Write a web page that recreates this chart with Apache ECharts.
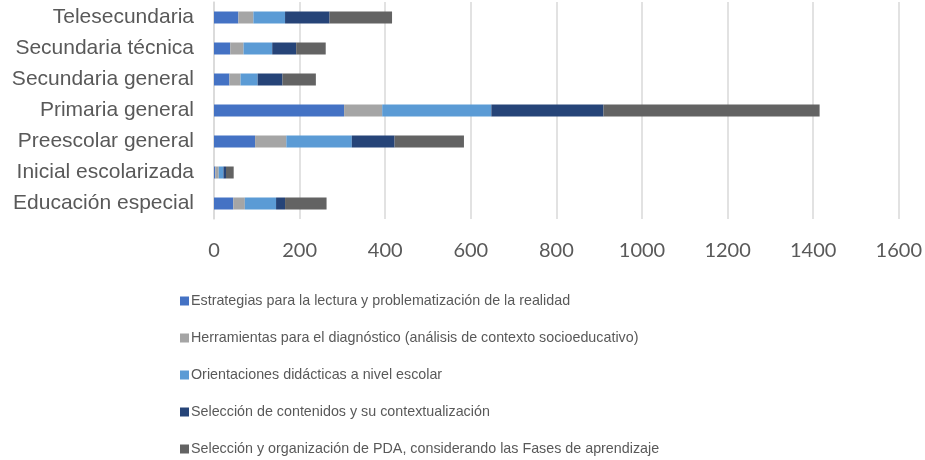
<!DOCTYPE html>
<html>
<head>
<meta charset="utf-8">
<script src="https://cdn.jsdelivr.net/npm/echarts@6/dist/echarts.min.js"></script>
<style>
html,body{margin:0;padding:0;background:#fff;}
#main{width:925px;height:460px;}
</style>
</head>
<body>
<div id="main"></div>
<script>
var fontFamily='Arial,"Liberation Sans",Helvetica,sans-serif';
var tickFont='Lato,"Open Sans",sans-serif';

// categories, bottom to top as drawn
var categories=['Educación especial','Inicial escolarizada','Preescolar general','Primaria general','Secundaria general','Secundaria técnica','Telesecundaria'];
var seriesNames=[
    'Estrategias para la lectura y problematización de la realidad',
    'Herramientas para el diagnóstico (análisis de contexto socioeducativo)',
    'Orientaciones didácticas a nivel escolar',
    'Selección de contenidos y su contextualización',
    'Selección y organización de PDA, considerando las Fases de aprendizaje'
];
var estrategias=[45,3,96,304,36,38,57];
var herramientas=[27,8,73,89,26,31,35];
var orientaciones=[73,11,153,255,40,67,74];
var seleccionContenidos=[21,6,100,262,58,56,104];
var seleccionPDA=[97,18,162,505,78,69,146];
var colors=['#4472C4','#A5A5A5','#5B9BD5','#264478','#636363'];

var chart=echarts.init(document.getElementById('main'));
var values=[estrategias,herramientas,orientaciones,seleccionContenidos,seleccionPDA];
var series=[];
for(var i=0;i<values.length;i++){
    series.push({
        name:seriesNames[i],
        type:'bar',
        stack:'total',
        barWidth:12,
        data:values[i],
        itemStyle:{color:colors[i]}
    });
}
var option={
    color:colors,
    animation:false,
    textStyle:{fontFamily:fontFamily},
    grid:{left:214,right:26,top:2,height:217,containLabel:false},
    xAxis:{
        type:'value',
        min:0,
        max:1600,
        interval:200,
        axisLine:{show:false},
        axisTick:{show:false},
        axisLabel:{color:'#595959',fontSize:20,fontFamily:tickFont,margin:22,
            formatter:function(v){return String(v);}},
        splitLine:{lineStyle:{color:'#D9D9D9',width:1.5}}
    },
    yAxis:{
        type:'category',
        data:categories,
        axisLine:{lineStyle:{color:'#D9D9D9',width:1.5}},
        axisTick:{show:false},
        axisLabel:{color:'#595959',fontSize:21,fontFamily:fontFamily,margin:20}
    },
    legend:{
        orient:'vertical',
        left:175,
        top:289,
        height:200,
        itemWidth:9,
        itemHeight:9,
        itemGap:23,
        icon:'rect',
        data:seriesNames,
        textStyle:{color:'#595959',fontSize:14.3,fontFamily:fontFamily,padding:[0,0,0,-3]}
    },
    series:series
};
chart.setOption(option);
</script>
</body>
</html>
